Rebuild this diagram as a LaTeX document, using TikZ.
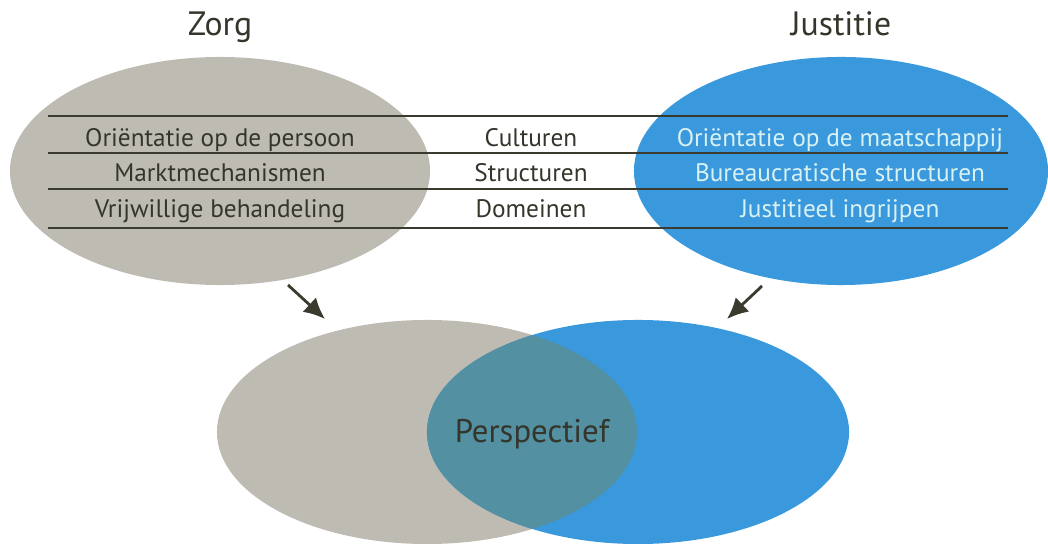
\documentclass[tikz,border=0pt]{standalone}
\usepackage{fontspec}
\setmainfont{PT Sans}
\usetikzlibrary{arrows.meta, shapes.geometric}

\definecolor{zorggrijs}{HTML}{BDBBB2}
\definecolor{justblauw}{HTML}{3A98DC}
\definecolor{lensblauw}{HTML}{5290A2}
\definecolor{lijn}{HTML}{3B3A2E}
\definecolor{tekst}{HTML}{35352B}
\definecolor{lichttekst}{HTML}{D8F1F3}

\begin{document}
\begin{tikzpicture}[x=0.025cm,y=-0.025cm,>={Latex[length=15pt,width=14pt]}]
	\tikzstyle{bol}=[ellipse, inner sep=0pt, minimum width=10.5cm, minimum height=5.7cm]
	\tikzstyle{regel}=[line width=1.4pt, draw=lijn]
	\tikzstyle{rij}=[anchor=base, inner sep=0pt, text=tekst, font=\fontsize{18}{20}\selectfont]
	\tikzstyle{titel}=[anchor=base, inner sep=0pt, text=tekst, font=\fontsize{24}{28}\selectfont]
	\tikzstyle{pijl}=[->, line width=2pt, draw=lijn, fill=lijn]

	\useasboundingbox (0,0) rectangle (1048,544);

	\node [bol, fill=zorggrijs] (zorg) at (220,171) {};
	\node [bol, fill=justblauw, minimum width=10.35cm] (justitie) at (841,171) {};
	\node [titel] (zorgkop) at (220,36) {Zorg};
	\node [titel] (justkop) at (841,36) {Justitie};

	\foreach \y in {116,153,189,228}
		\draw [regel] (48,\y) -- (1008,\y);

	\node [rij] (z1) at (220,147) {Oriëntatie op de persoon};
	\node [rij] (z2) at (220,182) {Marktmechanismen};
	\node [rij] (z3) at (220,218) {Vrijwillige behandeling};
	\node [rij] (m1) at (531,147) {Culturen};
	\node [rij] (m2) at (531,182) {Structuren};
	\node [rij] (m3) at (531,218) {Domeinen};
	\node [rij, text=lichttekst] (j1) at (840,147) {Oriëntatie op de maatschappij};
	\node [rij, text=lichttekst] (j2) at (840,182) {Bureaucratische structuren};
	\node [rij, text=lichttekst] (j3) at (840,218) {Justitieel ingrijpen};

	\node [bol, fill=zorggrijs, minimum height=5.6cm] (zorgonder) at (427,432) {};
	\node [bol, fill=justblauw, minimum width=10.55cm, minimum height=5.6cm] (justonder) at (638,432) {};
	\begin{scope}
		\clip (427,432) ellipse (5.25cm and 2.8cm);
		\fill [lensblauw] (638,432) ellipse (5.275cm and 2.8cm);
	\end{scope}
	\node [titel, font=\fontsize{23.3}{27}\selectfont] (persp) at (532,443) {Perspectief};

	\coordinate (zorgpunt) at (288,285);
	\coordinate (zorgdoel) at (325,319);
	\coordinate (justpunt) at (762,286);
	\coordinate (justdoel) at (727,319);
	\draw [pijl] (zorgpunt) -- (zorgdoel);
	\draw [pijl] (justpunt) -- (justdoel);
\end{tikzpicture}
\end{document}
